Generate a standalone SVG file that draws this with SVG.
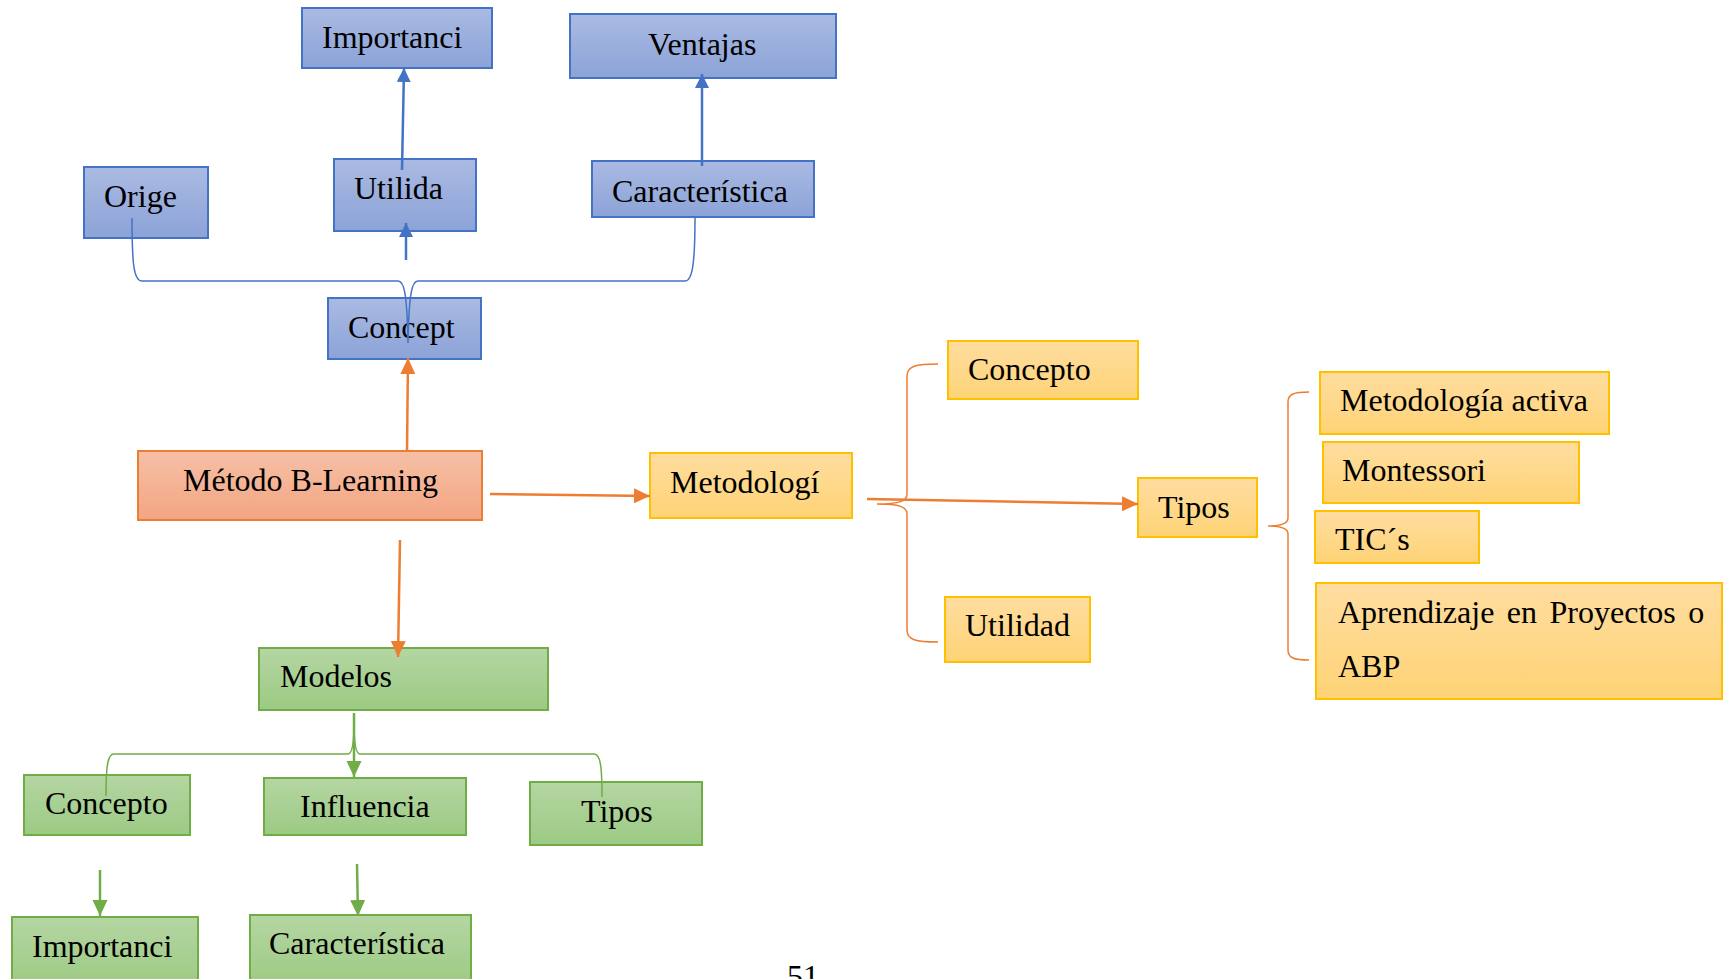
<svg xmlns="http://www.w3.org/2000/svg" width="1731" height="979" viewBox="0 0 1731 979">
  <defs>
    <linearGradient id="gBlue" x1="0" y1="0" x2="0" y2="1">
      <stop offset="0" stop-color="#AABAE2"/>
      <stop offset="1" stop-color="#8CA3D8"/>
    </linearGradient>
    <linearGradient id="gOrange" x1="0" y1="0" x2="0" y2="1">
      <stop offset="0" stop-color="#F6C0A6"/>
      <stop offset="1" stop-color="#F3A582"/>
    </linearGradient>
    <linearGradient id="gYellow" x1="0" y1="0" x2="0" y2="1">
      <stop offset="0" stop-color="#FFDDA0"/>
      <stop offset="1" stop-color="#FED376"/>
    </linearGradient>
    <linearGradient id="gGreen" x1="0" y1="0" x2="0" y2="1">
      <stop offset="0" stop-color="#B5D6A3"/>
      <stop offset="1" stop-color="#9CCA83"/>
    </linearGradient>
    <marker id="aBlue" markerUnits="userSpaceOnUse" markerWidth="16" markerHeight="16" refX="14" refY="7" orient="auto">
      <path d="M0,0 L14,7 L0,14 Z" fill="#4472C4"/>
    </marker>
    <marker id="aOrange" markerUnits="userSpaceOnUse" markerWidth="18" markerHeight="18" refX="16" refY="7.5" orient="auto">
      <path d="M0,0 L16,7.5 L0,15 Z" fill="#ED7D31"/>
    </marker>
    <marker id="aGreen" markerUnits="userSpaceOnUse" markerWidth="18" markerHeight="18" refX="16" refY="7.5" orient="auto">
      <path d="M0,0 L16,7.5 L0,15 Z" fill="#70AD47"/>
    </marker>
  </defs>
  <style>
    text { font-family: "Liberation Serif", "Times New Roman", serif; font-size: 32px; fill: #000; }
    .blue rect { fill: url(#gBlue); stroke: #4472C4; stroke-width: 2; }
    .orange rect { fill: url(#gOrange); stroke: #ED7D31; stroke-width: 2; }
    .yellow rect { fill: url(#gYellow); stroke: #FFC000; stroke-width: 2; }
    .green rect { fill: url(#gGreen); stroke: #70AD47; stroke-width: 2; }
    .arr { fill: none; stroke-width: 2.5; }
    .brace { fill: none; stroke-width: 1.5; }
  </style>

  <rect width="1731" height="979" fill="#FFFFFF"/>

  <!-- blue branch -->
  <g id="n-importancia-top" class="blue"><rect x="302" y="8" width="190" height="60"/><text x="322" y="48">Importanci</text></g>
  <g id="n-ventajas" class="blue"><rect x="570" y="14" width="266" height="64"/><text x="648" y="55">Ventajas</text></g>
  <g id="n-origen" class="blue"><rect x="84" y="167" width="124" height="71"/><text x="104" y="207">Orige</text></g>
  <g id="n-utilidad-top" class="blue"><rect x="334" y="159" width="142" height="72"/><text x="354" y="199">Utilida</text></g>
  <g id="n-caracteristica-top" class="blue"><rect x="592" y="161" width="222" height="56"/><text x="612" y="202">Característica</text></g>
  <g id="n-concepto-top" class="blue"><rect x="328" y="298" width="153" height="61"/><text x="348" y="338">Concept</text></g>

  <!-- central node -->
  <g id="n-metodo" class="orange"><rect x="138" y="451" width="344" height="69"/><text x="183" y="491">Método B-Learning</text></g>

  <!-- yellow branch -->
  <g id="n-metodologia" class="yellow"><rect x="650" y="453" width="202" height="65"/><text x="670" y="493">Metodologí</text></g>
  <g id="n-concepto-y" class="yellow"><rect x="948" y="341" width="190" height="58"/><text x="968" y="380">Concepto</text></g>
  <g id="n-utilidad-y" class="yellow"><rect x="945" y="597" width="145" height="65"/><text x="965" y="636">Utilidad</text></g>
  <g id="n-tipos-y" class="yellow"><rect x="1138" y="478" width="119" height="59"/><text x="1158" y="518">Tipos</text></g>
  <g id="n-activa" class="yellow"><rect x="1320" y="372" width="289" height="62"/><text x="1340" y="411">Metodología activa</text></g>
  <g id="n-montessori" class="yellow"><rect x="1323" y="442" width="256" height="61"/><text x="1342" y="481">Montessori</text></g>
  <g id="n-tics" class="yellow"><rect x="1315" y="511" width="164" height="52"/><text x="1335" y="550">TIC´s</text></g>
  <g id="n-abp" class="yellow"><rect x="1316" y="583" width="406" height="116"/><text x="1338" y="623" word-spacing="4.5">Aprendizaje en Proyectos o</text><text x="1338" y="677">ABP</text></g>

  <!-- green branch -->
  <g id="n-modelos" class="green"><rect x="259" y="648" width="289" height="62"/><text x="280" y="687">Modelos</text></g>
  <g id="n-concepto-g" class="green"><rect x="24" y="775" width="166" height="60"/><text x="45" y="814">Concepto</text></g>
  <g id="n-influencia" class="green"><rect x="264" y="778" width="202" height="57"/><text x="300" y="817">Influencia</text></g>
  <g id="n-tipos-g" class="green"><rect x="530" y="782" width="172" height="63"/><text x="581" y="822">Tipos</text></g>
  <g id="n-importancia-g" class="green"><rect x="12" y="917" width="186" height="70"/><text x="32" y="957">Importanci</text></g>
  <g id="n-caracteristica-g" class="green"><rect x="250" y="915" width="221" height="72"/><text x="269" y="954">Característica</text></g>

  <!-- connectors -->
  <g id="connectors">
    <!-- blue -->
    <path class="arr" stroke="#4472C4" d="M402,170 L404,68" marker-end="url(#aBlue)"/>
    <path class="arr" stroke="#4472C4" d="M702,166 L702,74" marker-end="url(#aBlue)"/>
    <path class="arr" stroke="#4472C4" d="M406,260 L406,223" marker-end="url(#aBlue)"/>
    <path class="brace" stroke="#4472C4" d="M132,218 C132,266 134,281 142,281 L398,281 C404,281 407,292 408,343 C409,292 412,281 418,281 L685,281 C692,281 695,266 695,218"/>
    <!-- orange -->
    <path class="arr" stroke="#ED7D31" d="M407,451 L408,358" marker-end="url(#aOrange)"/>
    <path class="arr" stroke="#ED7D31" d="M490,494 L650,496" marker-end="url(#aOrange)"/>
    <path class="arr" stroke="#ED7D31" d="M400,540 L398,657" marker-end="url(#aOrange)"/>
    <path class="arr" stroke="#ED7D31" d="M867,499 L1138,504" marker-end="url(#aOrange)"/>
    <path class="brace" stroke="#ED7D31" d="M938,364 C916,364 907,366 907,376 L907,494 C907,501 900,504 877,504 C900,504 907,507 907,514 L907,630 C907,640 916,642 938,642"/>
    <path class="brace" stroke="#ED7D31" d="M1309,392 C1294,392 1288,394 1288,402 L1288,518 C1288,524 1281,526 1268,526 C1281,526 1288,528 1288,534 L1288,650 C1288,658 1294,660 1309,660"/>
    <!-- green -->
    <path class="arr" stroke="#70AD47" d="M354,713 L354,777" marker-end="url(#aGreen)"/>
    <path class="brace" stroke="#70AD47" d="M106,796 C106,764 108,754 114,754 L348,754 C352,754 354,745 354,722 C354,745 356,754 360,754 L594,754 C600,754 602,764 602,797"/>
    <path class="arr" stroke="#70AD47" d="M100,870 L100,916" marker-end="url(#aGreen)"/>
    <path class="arr" stroke="#70AD47" d="M357,864 L358,916" marker-end="url(#aGreen)"/>
  </g>

  <text x="787" y="987">51</text>
</svg>
